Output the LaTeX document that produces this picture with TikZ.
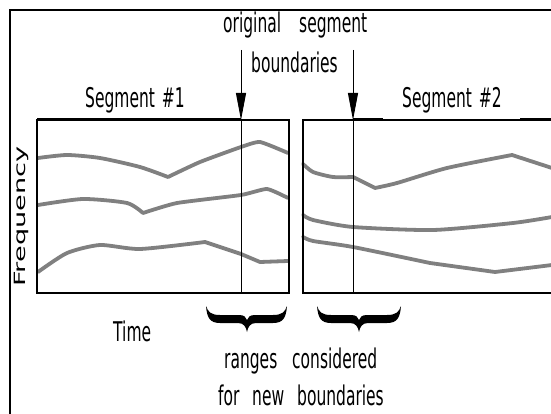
\documentclass[tikz,border=0pt]{standalone}
\usepackage{fontspec}
\setmainfont{DejaVu Sans}
\usetikzlibrary{arrows.meta}
\newcommand{\tallt}[1]{\scalebox{1}[1.75]{#1}}
\begin{document}
\begin{tikzpicture}[x=1pt,y=-1pt,
  lbl/.style={inner sep=0pt, anchor=base west, font=\fontsize{15.5}{18}\selectfont},
  curve/.style={draw=black!50, line width=3.8pt, line join=round, line cap=round},
  boxline/.style={line width=1.5pt},
  segline/.style={line width=3pt},
  bnd/.style={line width=0.9pt},
  arr/.style={line width=0.9pt, -{Triangle[length=27pt,width=10pt]}},
  bracef/.style={fill=black}]
\useasboundingbox (0,0) rectangle (551,414);
% outer frame
\draw[line width=2pt] (551,10) -- (10,10) -- (10,414);
% curves, left box
\draw[curve] plot[smooth, tension=0.4] coordinates {(38,158) (67,155) (100,158) (140,167) (168,177)} -- plot[smooth,tension=0.3] coordinates {(168,177) (200,162) (241,147) (260,142) (288,153)};
\draw[curve] plot[smooth, tension=0.4] coordinates {(38,205) (83,199) (127,203) (143,213)} -- plot[smooth,tension=0.3] coordinates {(143,213) (177,203) (241,195) (267,189) (288,198)};
\draw[curve] plot[smooth, tension=0.4] coordinates {(38,272) (67,253) (100,245) (140,249) (205,242)} -- (241,254) -- (260,262) -- (288,261);
% curves, right box
\draw[curve] plot[smooth, tension=0.4] coordinates {(303,164) (313,172) (333,177) (353,177)} -- (375,188) -- plot[smooth,tension=0.4] coordinates {(375,188) (397,183) (447,168) (512,155)} -- (552,168);
\draw[curve] plot[smooth, tension=0.4] coordinates {(303,215) (313,220) (353,227) (433,230) (513,223) (552,217)};
\draw[curve] plot[smooth, tension=0.4] coordinates {(303,237) (313,241) (353,247) (430,263)} -- (495,272) -- (552,265);
% boxes
\draw[boxline] (37,120) rectangle (289,293);
\draw[boxline] (551,120) -- (303,120) -- (303,293) -- (551,293);
% segment lines
\draw[segline] (37,120) -- (241,120);
\draw[segline] (353,120) -- (383,120);
\draw[segline] (520,120) -- (551,120);
% boundaries and arrows
\coordinate (b1top) at (241,50);
\coordinate (b1) at (241,120);
\coordinate (b1bot) at (241,293);
\coordinate (b2top) at (353,50);
\coordinate (b2) at (353,120);
\coordinate (b2bot) at (353,293);
\draw[bnd] (b1) -- (b1bot);
\draw[bnd] (b2) -- (b2bot);
\draw[arr] (b1top) -- (b1);
\draw[arr] (b2top) -- (b2);
% braces
\foreach \l/\r/\c in {206/287/247, 317/401/359}{
  \fill[bracef] (\l,306) .. controls ({\l+1},318) and ({\l+4},323) .. ({\l+14},323)
    -- ({\c-9},323) .. controls ({\c-3},323) and ({\c-1},327) .. (\c,332)
    .. controls ({\c+1},327) and ({\c+3},323) .. ({\c+9},323)
    -- ({\r-14},323) .. controls ({\r-4},323) and ({\r-1},318) .. (\r,306)
    .. controls ({\r-2},312) and ({\r-5},315) .. ({\r-14},315)
    -- ({\c+8},315) .. controls ({\c+3},315) and ({\c+1},317) .. (\c,320)
    .. controls ({\c-1},317) and ({\c-3},315) .. ({\c-8},315)
    -- ({\l+14},315) .. controls ({\l+5},315) and ({\l+2},312) .. (\l,306) -- cycle;
}
% labels
\node[lbl] (t1) at (223,33) {\tallt{original}};
\node[lbl] (t2) at (299,33) {\tallt{segment}};
\node[lbl] (t3) at (251,73) {\tallt{boundaries}};
\node[lbl] (s1) at (85,108) {\tallt{Segment\hspace{7pt}\#1}};
\node[lbl] (s2) at (402,108) {\tallt{Segment\hspace{7pt}\#2}};
\node[lbl] (time) at (113,341) {\tallt{Time}};
\node[lbl] (r1) at (224,368) {\tallt{ranges}};
\node[lbl] (r2) at (292,368) {\tallt{considered}};
\node[lbl] (r3) at (218,405) {\tallt{for}};
\node[lbl] (r4) at (252,405) {\tallt{new}};
\node[lbl] (r5) at (297,405) {\tallt{boundaries}};
\node[lbl, rotate=90] (freq) at (25,287) {\scalebox{1.75}[1]{Frequency}};
\end{tikzpicture}
\end{document}
